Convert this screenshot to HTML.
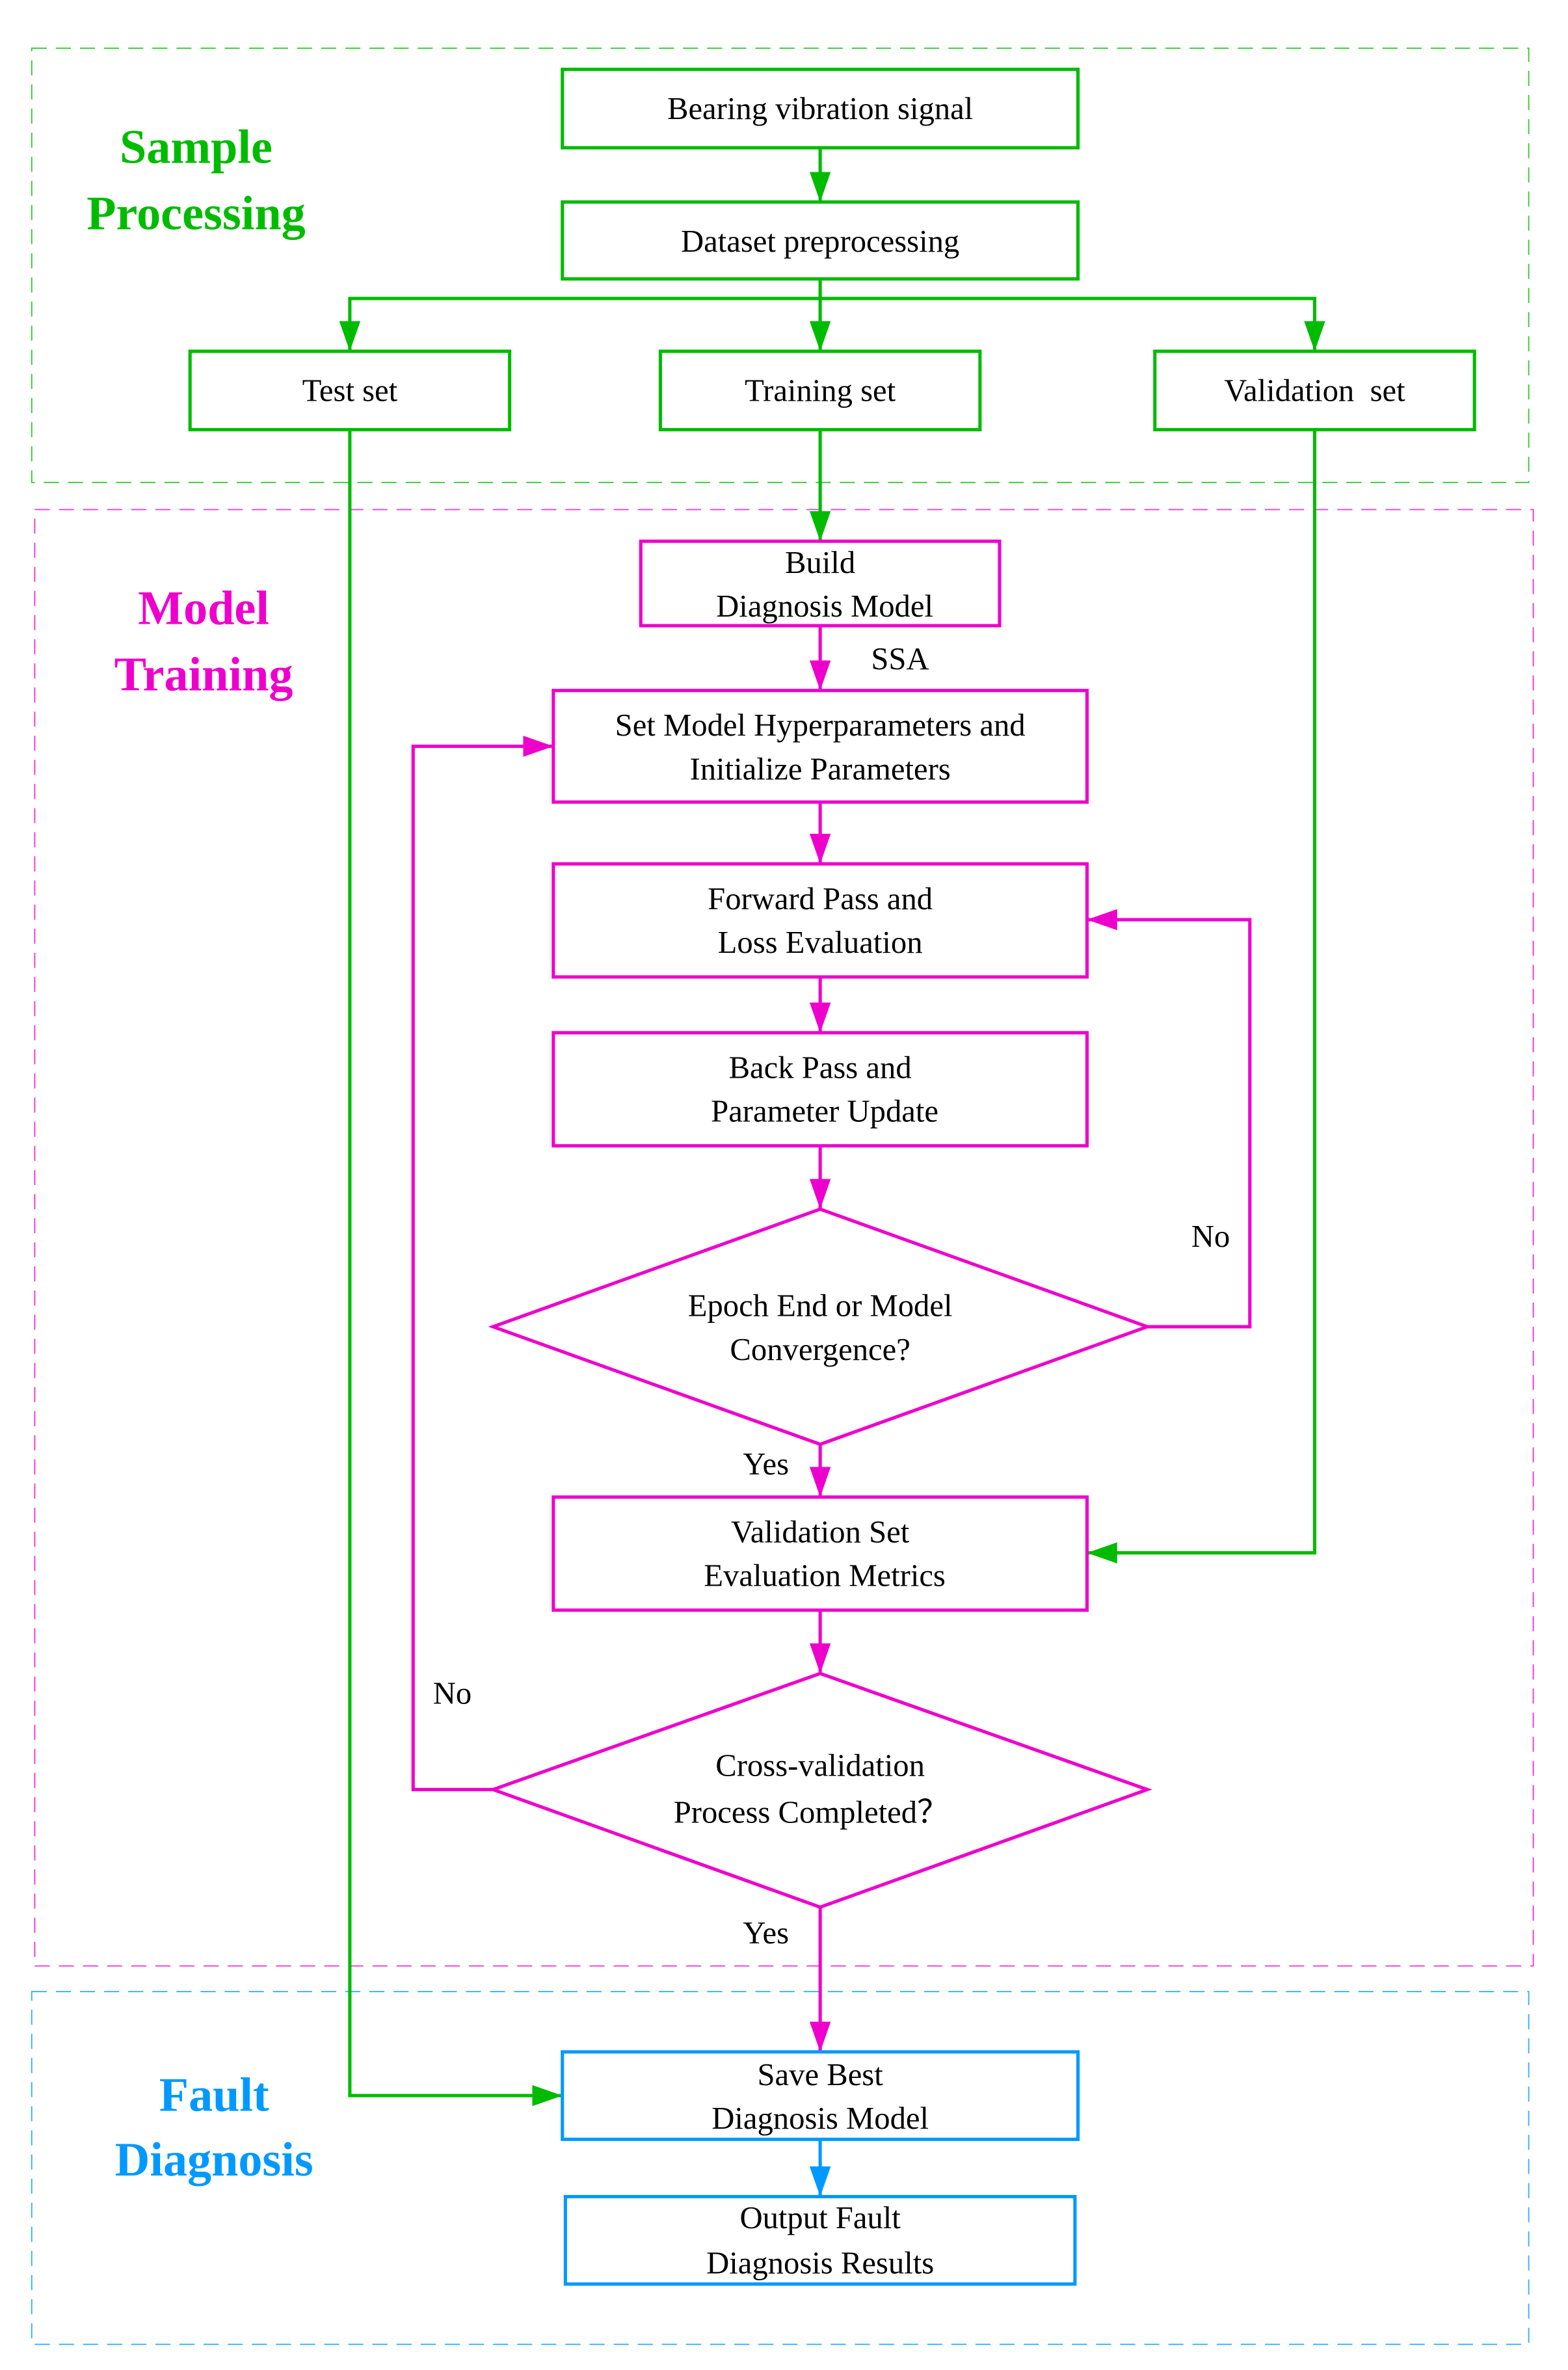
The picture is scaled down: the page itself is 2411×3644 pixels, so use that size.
<!DOCTYPE html>
<html><head><meta charset="utf-8"><style>html,body{margin:0;padding:0;background:#fff}svg{display:block}</style></head>
<body>
<svg width="2411" height="3644" viewBox="0 0 1040 1572" xmlns="http://www.w3.org/2000/svg" font-family="'Liberation Serif', serif">
<defs>
<marker id="ag" markerWidth="20" markerHeight="14" refX="20" refY="7" orient="auto" markerUnits="userSpaceOnUse"><path d="M0,0 L20,7 L0,14 z" fill="#00bb00"/></marker>
<marker id="am" markerWidth="20" markerHeight="14" refX="20" refY="7" orient="auto" markerUnits="userSpaceOnUse"><path d="M0,0 L20,7 L0,14 z" fill="#ee00cc"/></marker>
<marker id="ab" markerWidth="20" markerHeight="14" refX="20" refY="7" orient="auto" markerUnits="userSpaceOnUse"><path d="M0,0 L20,7 L0,14 z" fill="#0099ff"/></marker>
</defs>
<rect width="1040" height="1572" fill="#fff"/>
<!-- dashed regions -->
<rect x="21" y="32" width="993" height="288" fill="none" stroke="#00bb00" stroke-width="0.8" stroke-dasharray="10,6" opacity="0.8"/>
<rect x="23" y="338" width="994" height="966" fill="none" stroke="#ee00cc" stroke-width="0.8" stroke-dasharray="10,6" opacity="0.8"/>
<rect x="21" y="1321" width="993" height="234" fill="none" stroke="#0099ff" stroke-width="0.8" stroke-dasharray="10,6" opacity="0.8"/>

<g font-weight="bold" font-size="32" text-anchor="middle">
<text x="130" y="108" fill="#00bb00">Sample</text>
<text x="130" y="152" fill="#00bb00">Processing</text>
<text x="135" y="414" fill="#ee00cc">Model</text>
<text x="135" y="458" fill="#ee00cc">Training</text>
<text x="142" y="1400" fill="#0099ff">Fault</text>
<text x="142" y="1443" fill="#0099ff">Diagnosis</text>
</g>

<!-- green section -->
<g fill="none" stroke="#00bb00" stroke-width="2.2">
<rect x="373" y="46" width="342" height="52"/>
<rect x="373" y="134" width="342" height="51"/>
<rect x="126" y="233" width="212" height="52"/>
<rect x="438" y="233" width="212" height="52"/>
<rect x="766" y="233" width="212" height="52"/>
<line x1="544" y1="98" x2="544" y2="134" marker-end="url(#ag)"/>
<polyline points="544,185 544,198 232,198 232,233" marker-end="url(#ag)"/>
<line x1="544" y1="198" x2="544" y2="233" marker-end="url(#ag)"/>
<polyline points="544,198 872,198 872,233" marker-end="url(#ag)"/>
<line x1="544" y1="285" x2="544" y2="359" marker-end="url(#ag)"/>
<polyline points="872,285 872,1030 721,1030" marker-end="url(#ag)"/>
<polyline points="232,285 232,1390 373,1390" marker-end="url(#ag)"/>
</g>

<!-- magenta section -->
<g fill="none" stroke="#ee00cc" stroke-width="2.2">
<rect x="425" y="359" width="238" height="56"/>
<rect x="367" y="458" width="354" height="74"/>
<rect x="367" y="573" width="354" height="75"/>
<rect x="367" y="685" width="354" height="75"/>
<polygon points="544,802 761,880 544,958 327,880"/>
<rect x="367" y="993" width="354" height="75"/>
<polygon points="544,1110 761,1187 544,1265 327,1187"/>
<line x1="544" y1="415" x2="544" y2="458" marker-end="url(#am)"/>
<line x1="544" y1="532" x2="544" y2="573" marker-end="url(#am)"/>
<line x1="544" y1="648" x2="544" y2="685" marker-end="url(#am)"/>
<line x1="544" y1="760" x2="544" y2="802" marker-end="url(#am)"/>
<polyline points="761,880 829,880 829,610 721,610" marker-end="url(#am)"/>
<line x1="544" y1="958" x2="544" y2="993" marker-end="url(#am)"/>
<line x1="544" y1="1068" x2="544" y2="1110" marker-end="url(#am)"/>
<polyline points="327,1187 274,1187 274,495 367,495" marker-end="url(#am)"/>
<line x1="544" y1="1265" x2="544" y2="1361" marker-end="url(#am)"/>
</g>

<!-- blue section -->
<g fill="none" stroke="#0099ff" stroke-width="2.2">
<rect x="373" y="1361" width="342" height="58"/>
<rect x="375" y="1457" width="338" height="58"/>
<line x1="544" y1="1419" x2="544" y2="1457" marker-end="url(#ab)"/>
</g>

<g font-size="21" text-anchor="middle" fill="#000">
<text x="544" y="79">Bearing vibration signal</text>
<text x="544" y="167">Dataset preprocessing</text>
<text x="232" y="266">Test set</text>
<text x="544" y="266">Training set</text>
<text x="872" y="266" xml:space="preserve">Validation  set</text>
<text x="544" y="380">Build</text>
<text x="547" y="409">Diagnosis Model</text>
<text x="597" y="444">SSA</text>
<text x="544" y="488">Set Model Hyperparameters and</text>
<text x="544" y="517">Initialize Parameters</text>
<text x="544" y="603">Forward Pass and</text>
<text x="544" y="632">Loss Evaluation</text>
<text x="544" y="715">Back Pass and</text>
<text x="547" y="744">Parameter Update</text>
<text x="544" y="873">Epoch End or Model</text>
<text x="544" y="902">Convergence?</text>
<text x="803" y="827">No</text>
<text x="508" y="978">Yes</text>
<text x="544" y="1023">Validation Set</text>
<text x="547" y="1052">Evaluation Metrics</text>
<text x="544" y="1178">Cross-validation</text>
<text x="538" y="1209">Process Completed？</text>
<text x="300" y="1130">No</text>
<text x="508" y="1289">Yes</text>
<text x="544" y="1383">Save Best</text>
<text x="544" y="1412">Diagnosis Model</text>
<text x="544" y="1478">Output Fault</text>
<text x="544" y="1508">Diagnosis Results</text>
</g>
</svg>
</body></html>
